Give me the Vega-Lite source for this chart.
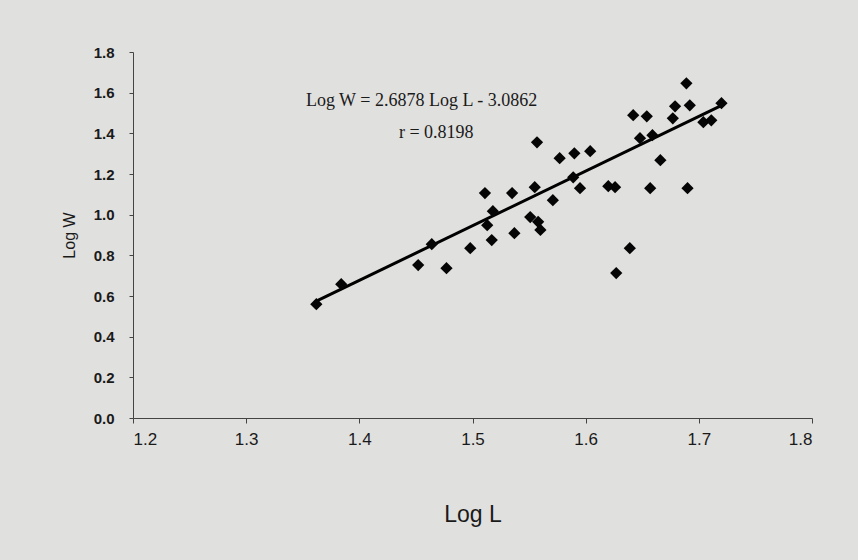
{
  "$schema": "https://vega.github.io/schema/vega-lite/v6.json",
  "width": 679,
  "height": 366,
  "autosize": {"type": "none"},
  "padding": {"left": 133, "top": 52, "right": 46, "bottom": 142},
  "background": "#e0e0de",
  "config": {
    "view": {"stroke": null},
    "font": "Liberation Sans",
    "axis": {"grid": false, "domainColor": "#444", "tickColor": "#444", "labelColor": "#1a1a1a", "titleColor": "#1a1a1a", "labelFont": "Liberation Sans", "titleFont": "Liberation Sans", "titleFontWeight": "normal"}
  },
  "datasets": {
    "pts": [
      {"L": 1.362, "W": 0.560}, {"L": 1.384, "W": 0.658}, {"L": 1.452, "W": 0.752}, {"L": 1.464, "W": 0.855},
      {"L": 1.477, "W": 0.737}, {"L": 1.498, "W": 0.835}, {"L": 1.511, "W": 1.106}, {"L": 1.518, "W": 1.017},
      {"L": 1.513, "W": 0.948}, {"L": 1.517, "W": 0.875}, {"L": 1.535, "W": 1.106}, {"L": 1.537, "W": 0.909},
      {"L": 1.551, "W": 0.988}, {"L": 1.555, "W": 1.135}, {"L": 1.557, "W": 1.356}, {"L": 1.558, "W": 0.965},
      {"L": 1.560, "W": 0.925}, {"L": 1.571, "W": 1.071}, {"L": 1.577, "W": 1.278}, {"L": 1.590, "W": 1.302},
      {"L": 1.589, "W": 1.184}, {"L": 1.595, "W": 1.130}, {"L": 1.604, "W": 1.312}, {"L": 1.620, "W": 1.140},
      {"L": 1.626, "W": 1.135}, {"L": 1.642, "W": 1.489}, {"L": 1.654, "W": 1.484}, {"L": 1.648, "W": 1.376},
      {"L": 1.659, "W": 1.391}, {"L": 1.666, "W": 1.268}, {"L": 1.657, "W": 1.130}, {"L": 1.690, "W": 1.130},
      {"L": 1.639, "W": 0.835}, {"L": 1.627, "W": 0.713}, {"L": 1.679, "W": 1.533}, {"L": 1.692, "W": 1.538},
      {"L": 1.677, "W": 1.474}, {"L": 1.689, "W": 1.646}, {"L": 1.704, "W": 1.455}, {"L": 1.711, "W": 1.464},
      {"L": 1.720, "W": 1.548}
    ],
    "fit": [{"L": 1.362, "W": 0.5746}, {"L": 1.722, "W": 1.5422}],
    "notes": [
      {"L": 1.455, "W": 1.558, "t": "Log W = 2.6878 Log L - 3.0862"},
      {"L": 1.468, "W": 1.40, "t": "r = 0.8198"}
    ]
  },
  "layer": [
    {
      "data": {"name": "fit"},
      "mark": {"type": "line", "color": "#000", "strokeWidth": 3},
      "encoding": {
        "x": {"field": "L", "type": "quantitative", "scale": {"domain": [1.2, 1.8], "nice": false, "zero": false},
          "axis": {"values": [1.2, 1.3, 1.4, 1.5, 1.6, 1.7, 1.8], "format": ".1f", "title": "Log L", "labelFontSize": 17, "labelFontWeight": 500, "titleFontSize": 23, "labelPadding": 8, "titlePadding": 56, "tickSize": 5}},
        "y": {"field": "W", "type": "quantitative", "scale": {"domain": [0, 1.8], "nice": false},
          "axis": {"values": [0, 0.2, 0.4, 0.6, 0.8, 1.0, 1.2, 1.4, 1.6, 1.8], "format": ".1f", "title": "Log W", "labelFontSize": 15, "labelFontWeight": "bold", "titleFontSize": 16, "labelPadding": 15, "titlePadding": 16, "tickSize": 4}}
      }
    },
    {
      "data": {"name": "pts"},
      "mark": {"type": "point", "shape": "diamond", "filled": true, "color": "#050505", "size": 150, "opacity": 1},
      "encoding": {
        "x": {"field": "L", "type": "quantitative"},
        "y": {"field": "W", "type": "quantitative"}
      }
    },
    {
      "data": {"name": "notes"},
      "mark": {"type": "text", "font": "Liberation Serif", "fontSize": 18, "color": "#1a1a1a"},
      "encoding": {
        "x": {"field": "L", "type": "quantitative"},
        "y": {"field": "W", "type": "quantitative"},
        "text": {"field": "t"}
      }
    }
  ]
}
